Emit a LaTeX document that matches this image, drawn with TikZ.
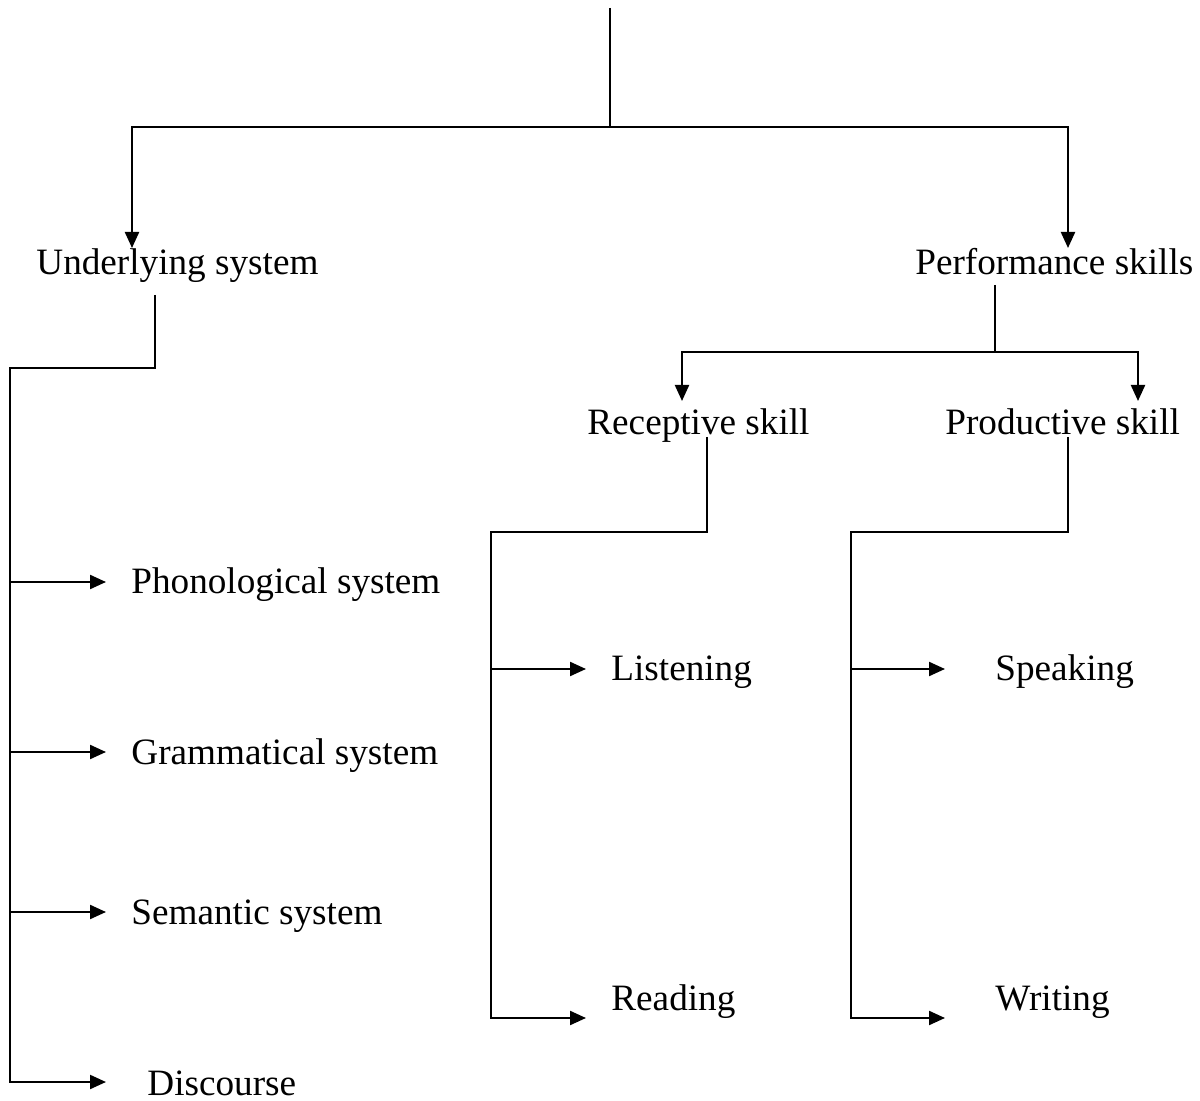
\documentclass[tikz,border=0pt]{standalone}
\usepackage{fontspec}
\setmainfont{Liberation Serif}
\usetikzlibrary{arrows.meta}
\begin{document}
\begin{tikzpicture}[x=0.5pt,y=-0.5pt,
  lbl/.style={inner sep=0pt, anchor=base west, font=\fontsize{18.6}{22}\selectfont},
  ln/.style={line width=1.1pt},
  arr/.style={line width=1.1pt,-{Triangle[length=8pt,width=7pt]}}]
\useasboundingbox (0,0) rectangle (1200,1101);
% labels
\node[lbl] (us) at (36,275) {Underlying system};
\node[lbl] (ps) at (915,275) {Performance skills};
\node[lbl] (rs) at (587,435) {Receptive skill};
\node[lbl] (prs) at (945,435) {Productive skill};
\node[lbl] (ph) at (131,594) {Phonological system};
\node[lbl] (gr) at (131,764) {Grammatical system};
\node[lbl] (se) at (131,924) {Semantic system};
\node[lbl] (di) at (147,1095) {Discourse};
\node[lbl] (li) at (611,680) {Listening};
\node[lbl] (re) at (611,1010) {Reading};
\node[lbl] (sp) at (995,680) {Speaking};
\node[lbl] (wr) at (995,1010) {Writing};
% coordinates
\coordinate (t0) at (610,8);
\coordinate (t1) at (610,127);
\coordinate (usTip) at (132,248);
\coordinate (psTip) at (1068,248);
\coordinate (usOut) at (155,295);
\coordinate (usBend) at (10,368);
\coordinate (uPh) at (10,582);
\coordinate (uGr) at (10,752);
\coordinate (uSe) at (10,912);
\coordinate (phTip) at (106,582);
\coordinate (grTip) at (106,752);
\coordinate (seTip) at (106,912);
\coordinate (diTip) at (106,1082);
\coordinate (psOut) at (995,285);
\coordinate (psJ) at (995,352);
\coordinate (rsTip) at (682,401);
\coordinate (prsTip) at (1138,401);
\coordinate (rsOut) at (707,437);
\coordinate (rsBend) at (491,532);
\coordinate (rLi) at (491,669);
\coordinate (liTip) at (586,669);
\coordinate (reTip) at (586,1018);
\coordinate (prsOut) at (1068,437);
\coordinate (prsBend) at (851,532);
\coordinate (pSp) at (851,669);
\coordinate (spTip) at (945,669);
\coordinate (wrTip) at (945,1018);
% connectors
\draw[ln] (t0) -- (t1);
\draw[arr] (t1) -| (usTip);
\draw[arr] (t1) -| (psTip);
\draw[arr] (usOut) |- (usBend) |- (diTip);
\draw[arr] (uPh) -- (phTip);
\draw[arr] (uGr) -- (grTip);
\draw[arr] (uSe) -- (seTip);
\draw[ln] (psOut) -- (psJ);
\draw[arr] (psJ) -| (rsTip);
\draw[arr] (psJ) -| (prsTip);
\draw[arr] (rsOut) |- (rsBend) |- (reTip);
\draw[arr] (rLi) -- (liTip);
\draw[arr] (prsOut) |- (prsBend) |- (wrTip);
\draw[arr] (pSp) -- (spTip);
\end{tikzpicture}
\end{document}
